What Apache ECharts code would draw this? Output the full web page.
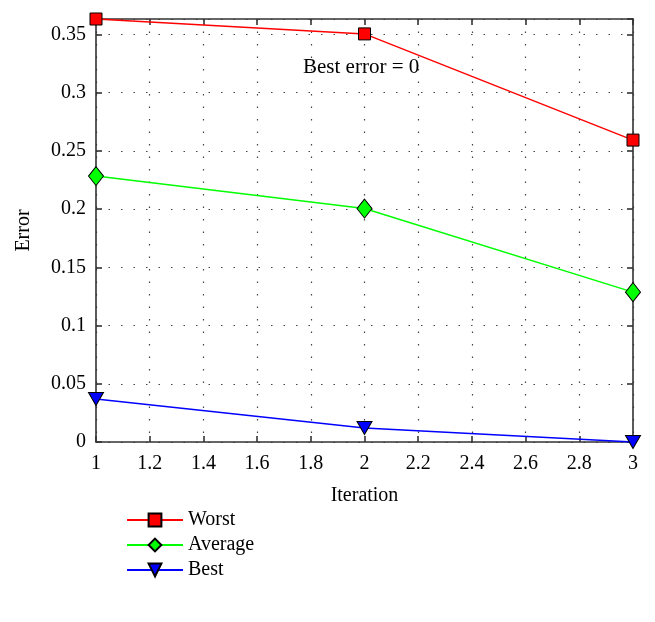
<!DOCTYPE html>
<html>
<head>
<meta charset="utf-8">
<script src="https://cdn.jsdelivr.net/npm/echarts@6/dist/echarts.min.js"></script>
<style>html,body{margin:0;padding:0;background:#fff}#c{width:655px;height:622px}</style>
</head>
<body>
<div id="c"></div>
<script>
const iterations = [1, 2, 3];
const worst = [0.3633, 0.3505, 0.2593];
const average = [0.2284, 0.2005, 0.1287];
const best = [0.0370, 0.0120, 0];
const yMax = 0.3633;
const seriesNames = ['Worst', 'Average', 'Best'];
const annotation = 'Best error = 0';

const FONT = 'Liberation Serif';
const chart = echarts.init(document.getElementById('c'), null, {renderer: 'canvas'});
const pairs = a => iterations.map((x, i) => [x, a[i]]);
const axisLineStyle = {color: '#333', width: 1.6};
const gridDots = {color: '#444', type: [1.5, 11], width: 1.2};
const grid = {left: 96, top: 19, width: 537, height: 423};
function fmt(v){ return String(Math.round(v*100)/100); }
const baseSeries = (name, data, color, symbol, size, rot) => ({
  name, type: 'line', data: pairs(data), clip: false,
  symbol, symbolSize: size, symbolRotate: rot || 0,
  lineStyle: {color, width: 1.5},
  itemStyle: {color, borderColor: '#000', borderWidth: 1},
  emphasis: {disabled: true}, z: 5
});
chart.setOption({
  animation: false,
  backgroundColor: '#fff',
  grid,
  textStyle: {fontFamily: FONT},
  xAxis: [{
    type: 'value', min: 1, max: 3, interval: 0.2, position: 'bottom',
    name: 'Iteration', nameLocation: 'middle', nameGap: 44,
    nameTextStyle: {fontFamily: FONT, fontSize: 20, color: '#000'},
    axisLine: {show: true, onZero: false, lineStyle: axisLineStyle},
    axisTick: {show: true, inside: true, length: 6, lineStyle: axisLineStyle},
    axisLabel: {fontFamily: FONT, fontSize: 20, color: '#000', margin: 12, formatter: fmt},
    splitLine: {show: true, lineStyle: gridDots}
  }, {
    type: 'value', min: 1, max: 3, interval: 0.2, position: 'top',
    axisLine: {show: true, onZero: false, lineStyle: axisLineStyle},
    axisTick: {show: true, inside: true, length: 6, lineStyle: axisLineStyle},
    axisLabel: {show: false}, splitLine: {show: false}
  }],
  yAxis: [{
    type: 'value', min: 0, max: yMax, interval: 0.05, position: 'left',
    name: 'Error', nameLocation: 'middle', nameGap: 62, nameRotate: 90,
    nameTextStyle: {fontFamily: FONT, fontSize: 20, color: '#000'},
    axisLine: {show: true, onZero: false, lineStyle: axisLineStyle},
    axisTick: {show: true, inside: true, length: 6, lineStyle: axisLineStyle},
    axisLabel: {fontFamily: FONT, fontSize: 20, color: '#000', margin: 10, showMaxLabel: false, formatter: fmt},
    splitLine: {show: true, lineStyle: gridDots}
  }, {
    type: 'value', min: 0, max: yMax, interval: 0.05, position: 'right',
    axisLine: {show: true, onZero: false, lineStyle: axisLineStyle},
    axisTick: {show: true, inside: true, length: 6, lineStyle: axisLineStyle},
    axisLabel: {show: false}, splitLine: {show: false}
  }],
  legend: {
    orient: 'vertical', left: 121, top: 505, itemGap: 5,
    itemWidth: 56, itemHeight: 16,
    textStyle: {fontFamily: FONT, fontSize: 20, color: '#000'},
    data: seriesNames
  },
  graphic: [{
    type: 'text', left: 303, top: 57,
    style: {text: annotation, font: '21px "Liberation Serif"', fill: '#000'}
  }],
  series: [
    baseSeries(seriesNames[0], worst, '#ff0000', 'rect', 12),
    baseSeries(seriesNames[1], average, '#00ff00', 'diamond', [15, 19]),
    baseSeries(seriesNames[2], best, '#0000ff', 'triangle', [15, 13], 180)
  ]
});
</script>
</body>
</html>
